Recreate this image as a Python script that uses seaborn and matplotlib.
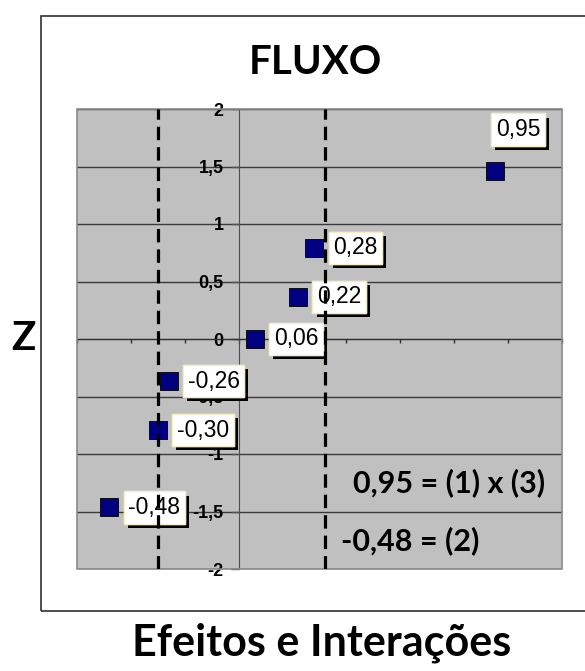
import matplotlib
matplotlib.use("Agg")
import matplotlib.pyplot as plt
import matplotlib.patheffects as pe
from matplotlib.patches import Rectangle
import seaborn as sns
import pandas as pd

# Effects and interactions (estimated effect) and their normal scores
effects = [-0.48, -0.30, -0.26, 0.06, 0.22, 0.28, 0.95]
z_scores = [-1.465, -0.792, -0.366, 0.0, 0.366, 0.792, 1.465]

# Significance limits (dashed verticals)
limits = [-0.30, 0.32]

y_ticks = [-2, -1.5, -1, -0.5, 0, 0.5, 1, 1.5, 2]
x_ticks = [-0.6, -0.4, -0.2, 0.0, 0.2, 0.4, 0.6, 0.8, 1.0, 1.2]

notes = ["0,95 = (1) x (3)", "-0,48 = (2)"]
note_pos = [(0.424, -1.25), (0.379, -1.75)]

title = "FLUXO"
xlabel = "Efeitos e Interações"
ylabel = "Z"


def comma(v):
    return f"{v:.2f}".replace(".", ",")


df = pd.DataFrame({"efeito": effects, "z": z_scores})

fig = plt.figure(figsize=(5.85, 6.71), dpi=100)
ax = fig.add_axes([77 / 585, 1 - 569 / 671, (562 - 77) / 585, (569 - 109) / 671])
ax.set_facecolor("#c0c0c0")

# outer chart frame
fig.patches.append(Rectangle((41 / 585, 1 - 611 / 671), 1.2, (611 - 16) / 671,
                             transform=fig.transFigure, fill=False,
                             ec="#303030", lw=1.2, zorder=0))

sns.scatterplot(data=df, x="efeito", y="z", ax=ax, marker="s", s=170,
                color="#000080", edgecolor="black", linewidth=0.6, zorder=3)

ax.set_xlim(-0.6, 1.2)
ax.set_ylim(-2, 2)

# axes crossing at zero
for side in ["top", "right"]:
    ax.spines[side].set_visible(False)
ax.spines["left"].set_position(("data", 0))
ax.spines["bottom"].set_position(("data", 0))
ax.spines["left"].set_color("#505050")
ax.spines["bottom"].set_color("#303030")
ax.add_patch(Rectangle((0, 0), 1, 1, transform=ax.transAxes, fill=False,
                       ec="#8a8a8a", lw=1.2, zorder=5, clip_on=False))

ax.set_yticks(y_ticks)
ax.set_yticklabels([("%g" % t).replace(".", ",") for t in y_ticks],
                   fontsize=13, fontweight="bold", family="Liberation Sans")
ax.set_xticks(x_ticks)
ax.set_xticklabels([])
ax.tick_params(axis="y", direction="out", length=6, width=1, color="#505050", pad=5)
ax.tick_params(axis="x", direction="out", length=3, width=1, color="#303030")
ax.set_xlabel("")
ax.set_ylabel("")
ax.yaxis.grid(True, color="#3a3a3a", lw=1)
ax.xaxis.grid(False)
ax.set_axisbelow(True)

# value labels with drop shadow
offsets = {6: (-4, 41)}
for i, (x, z) in enumerate(zip(effects, z_scores)):
    dx, dy = offsets.get(i, (14, 0))
    ann = ax.annotate(comma(x), (x, z), xytext=(dx + 5, dy), textcoords="offset pixels",
                      ha="left", va="center", fontsize=16.5, family="Liberation Sans",
                      bbox=dict(boxstyle="square,pad=0.2", fc="white", ec="#f2eec8", lw=1),
                      zorder=4)
    ann.get_bbox_patch().set_path_effects(
        [pe.withSimplePatchShadow(offset=(3, -3), shadow_rgbFace="black", alpha=1.0),
         pe.Normal()])

for lim in limits:
    ax.axvline(lim, color="black", lw=2.3, ls=(0, (4.2, 2.2)), zorder=6)

for txt, (x, y) in zip(notes, note_pos):
    ax.text(x, y, txt, ha="left", va="center", fontsize=22, fontweight="bold",
            family="Lato", zorder=7)

fig.text(315 / 585, 1 - 63 / 671, title, ha="center", va="center",
         fontsize=29, fontweight="bold", family="Lato")
fig.text(23 / 585, 1 - 338 / 671, ylabel, ha="center", va="center",
         fontsize=29, fontweight="bold", family="Lato")
fig.text(322 / 585, 1 - 643 / 671, xlabel, ha="center", va="center",
         fontsize=31, fontweight="bold", family="Lato")

fig.savefig("out.png", dpi=100)
